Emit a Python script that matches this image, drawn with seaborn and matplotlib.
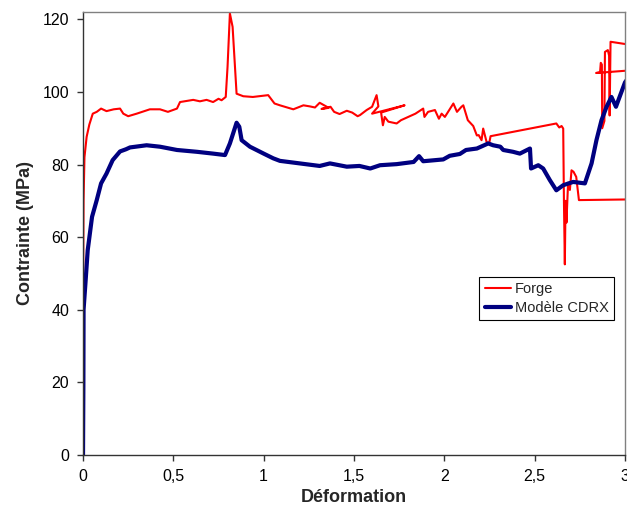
import matplotlib
matplotlib.use("Agg")
import matplotlib.pyplot as plt
import seaborn as sns
import pandas as pd

# Forge (red) curve — path data, includes remeshing back-steps
forge_x = [0.000, 0.003, 0.008, 0.02, 0.035, 0.054, 0.076, 0.10, 0.13, 0.17, 0.205, 0.223, 0.25,
           0.297, 0.37, 0.426, 0.47, 0.52, 0.537, 0.61, 0.647, 0.684, 0.72, 0.75, 0.767, 0.79,
           0.80, 0.813, 0.828, 0.85, 0.887, 0.94, 1.025, 1.06, 1.09, 1.164, 1.22, 1.256, 1.284,
           1.31, 1.36, 1.32, 1.37, 1.39, 1.42, 1.46, 1.49, 1.52, 1.533, 1.57, 1.60, 1.625, 1.635,
           1.60, 1.78, 1.65, 1.66, 1.67, 1.69, 1.736, 1.76, 1.84, 1.883, 1.89, 1.91, 1.948, 1.97,
           1.985, 2.003, 2.05, 2.07, 2.095, 2.105, 2.13, 2.16, 2.18, 2.19, 2.206, 2.215, 2.234,
           2.248, 2.256, 2.62, 2.636, 2.649, 2.658, 2.662, 2.667, 2.671, 2.676, 2.685, 2.695,
           2.704, 2.715, 2.73, 2.745, 3.05, 3.05, 2.84, 2.862, 2.866, 2.872, 2.874, 2.886, 2.889,
           2.905, 2.912, 2.915, 2.92, 3.05]
forge_y = [42, 70, 82, 87.6, 91, 94.0, 94.5, 95.4, 94.7, 95.2, 95.4, 94.0, 93.3,
           94.0, 95.2, 95.2, 94.5, 95.4, 97.2, 97.8, 97.4, 97.8, 97.2, 98.1, 97.7, 98.6,
           106.9, 121.6, 117.9, 99.5, 98.8, 98.6, 99.1, 96.8, 96.3, 95.2, 96.3, 96.0, 95.7,
           97.0, 95.6, 95.3, 95.9, 94.5, 93.9, 94.8, 94.3, 93.3, 93.6, 95.0, 95.9, 99.1, 96.0,
           94.0, 96.3, 94.3, 90.8, 93.1, 91.8, 91.3, 92.2, 94.0, 95.4, 93.1, 94.5, 95.0, 92.6,
           94.0, 93.1, 96.8, 94.5, 95.9, 96.3, 92.2, 90.6, 88.0, 88.1, 86.7, 89.9, 86.2,
           85.8, 87.8, 91.3, 90.2, 90.6, 89.9, 70.0, 52.5, 70.0, 64.0, 75.0, 73.0,
           78.4, 78.0, 76.6, 70.2, 70.4, 106.0, 105.2, 105.4, 108.0, 107.5, 90.0, 92.0, 111.0,
           111.5, 110.0, 93.5, 113.8, 112.8]

# Modèle CDRX (navy) curve
cdrx_x = [0.0, 0.002, 0.003, 0.013, 0.026, 0.05, 0.076, 0.10, 0.13, 0.164, 0.205, 0.238, 0.26,
          0.352, 0.426, 0.52, 0.63, 0.72, 0.786, 0.813, 0.85, 0.865, 0.878, 0.924, 1.0, 1.053,
          1.09, 1.2, 1.31, 1.367, 1.46, 1.53, 1.59, 1.644, 1.736, 1.83, 1.86, 1.883, 1.994,
          2.03, 2.086, 2.12, 2.18, 2.243, 2.27, 2.31, 2.326, 2.38, 2.418, 2.474, 2.48, 2.52,
          2.547, 2.584, 2.62, 2.658, 2.713, 2.778, 2.815, 2.842, 2.87, 2.898, 2.925, 2.95,
          2.97, 3.0, 3.02]
cdrx_y = [0, 20, 40, 47, 56.4, 65.6, 70.2, 74.8, 77.5, 81.2, 83.6, 84.2, 84.7,
          85.3, 84.9, 84.0, 83.5, 83.0, 82.6, 85.8, 91.5, 90.4, 86.7, 84.9, 83.0, 81.7,
          81.0, 80.3, 79.6, 80.3, 79.4, 79.6, 78.9, 79.8, 80.1, 80.7, 82.3, 80.9, 81.4,
          82.4, 82.9, 84.0, 84.4, 85.8, 85.3, 84.9, 84.0, 83.5, 83.0, 84.4, 78.9, 79.8,
          78.9, 75.7, 72.9, 74.3, 75.2, 74.8, 80.3, 86.7, 92.2, 95.9, 98.6, 95.9,
          98.6, 102.6, 104.0]

x_ticks = [0, 0.5, 1, 1.5, 2, 2.5, 3]
x_tick_labels = ["0", "0,5", "1", "1,5", "2", "2,5", "3"]
y_ticks = [0, 20, 40, 60, 80, 100, 120]

sns.set_style("ticks")
plt.rcParams['font.family'] = ['Liberation Sans', 'DejaVu Sans']

fig = plt.figure(figsize=(6.27, 5.19), dpi=100)
ax = fig.add_axes([0.1324, 0.1233, 0.8644, 0.8536])

df_f = pd.DataFrame({"x": forge_x, "y": forge_y})
df_c = pd.DataFrame({"x": cdrx_x, "y": cdrx_y})

sns.lineplot(data=df_f, x="x", y="y", sort=False, estimator=None, ax=ax,
             color="#FF0000", linewidth=1.5, label="Forge")
sns.lineplot(data=df_c, x="x", y="y", sort=False, estimator=None, ax=ax,
             color="#000080", linewidth=3.0, label="Modèle CDRX")

ax.set_xlim(0, 3)
ax.set_ylim(0, 122)
ax.set_xticks(x_ticks)
ax.set_xticklabels(x_tick_labels)
ax.set_yticks(y_ticks)
ax.tick_params(axis="both", labelsize=11.5, length=4, width=1, color="#333333",
               labelcolor="black", direction="out", pad=6)

for s in ["left", "bottom"]:
    ax.spines[s].set_color("#333333")
    ax.spines[s].set_linewidth(1.0)
for s in ["top", "right"]:
    ax.spines[s].set_visible(True)
    ax.spines[s].set_color("#808080")
    ax.spines[s].set_linewidth(1.0)

ax.set_xlabel("Déformation", fontsize=13, fontweight="bold", labelpad=4)
ax.set_ylabel("Contrainte (MPa)", fontsize=13, fontweight="bold", labelpad=6)

leg = ax.legend(loc="lower right", bbox_to_anchor=(0.98, 0.305), fontsize=10.5,
                frameon=True, fancybox=False, edgecolor="black", framealpha=1,
                handlelength=1.8, handletextpad=0.3, borderpad=0.35, labelspacing=0.3,
                borderaxespad=0)
leg.get_frame().set_linewidth(0.8)

fig.savefig("out.png", dpi=100)
